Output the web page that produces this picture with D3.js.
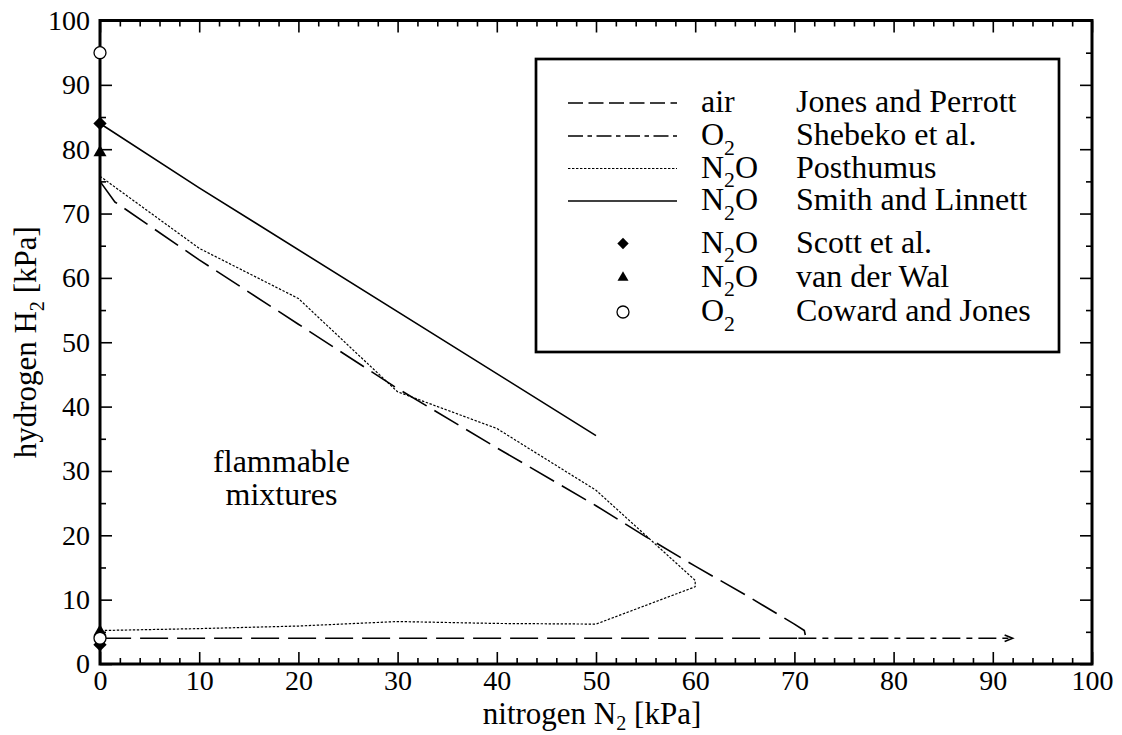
<!DOCTYPE html>
<html>
<head>
<meta charset="utf-8">
<script src="https://cdn.jsdelivr.net/npm/d3@7"></script>
<style>
  html, body { margin: 0; padding: 0; background: #fff; }
  svg { display: block; }
</style>
</head>
<body>
<svg id="chart" width="1122" height="735"></svg>
<script>
// Flammability limits of H2 / oxidiser mixtures diluted with N2 (partial pressures, kPa)

// Jones and Perrott, air (long dashes): upper branch, turning point, lower branch
const jonesAir = [[0, 75], [1.5, 71.8], [10, 62.8], [20, 52.8], [30, 42.8], [40, 33.6],
                  [50, 24.6], [55, 19.8], [60, 15.2], [65, 10.8], [70, 6.2], [71, 5.2],
                  [71.1, 4.5], [70.4, 4], [0, 4]];
// Shebeko et al., O2 (dash-dot), lower limit beyond the air curve, up to 92 kPa N2
const shebekoO2 = [[70.4, 4], [92, 4]];
// Posthumus, N2O (dotted)
const posthumusN2O = [[0, 75.8], [10, 64.6], [20, 56.8], [30, 42.3], [40, 36.6], [50, 27],
                      [60, 13], [60, 12], [50, 6.2], [40, 6.3], [30, 6.6], [20, 5.9],
                      [10, 5.5], [0, 5.2]];
// Smith and Linnett, N2O (solid)
const smithN2O = [[0, 84], [10, 74], [50, 35.5]];
// single points on the H2 axis
const scottN2O = [[0, 84], [0, 3]];
const vanDerWalN2O = [[0, 79.5], [0, 5]];
const cowardO2 = [[0, 95], [0, 4]];

// axis ticks
const xMajor = d3.range(0, 101, 10);
const xMinor = d3.range(0, 101, 2).filter(v => v % 10 !== 0);
const yMajor = d3.range(0, 101, 10);
const yMinor = d3.range(5, 100, 10);

// legend entries
const legendOxidiser = ["air", "O_2", "N_2O", "N_2O", "N_2O", "N_2O", "O_2"];
const legendSource = ["Jones and Perrott", "Shebeko et al.", "Posthumus", "Smith and Linnett",
                      "Scott et al.", "van der Wal", "Coward and Jones"];
const legendKind = ["dash", "dashdot", "dot", "solid", "diamond", "triangle", "circle"];

const W = 1122, H = 735;
const FONT = '"Liberation Serif", "Times New Roman", Times, serif';

const x = d3.scaleLinear().domain([0, 100]).range([100, 1092]);
const y = d3.scaleLinear().domain([0, 100]).range([664, 20.5]);

const svg = d3.select("#chart");
svg.append("rect").attr("width", W).attr("height", H).attr("fill", "#fff");

const lineStyles = {
  dash:    { dash: "28,9",       width: 1.6 },
  dashdot: { dash: "18,6,6,6",   width: 1.6 },
  dot:     { dash: "2.4,1.6",    width: 1.2 },
  solid:   { dash: null,         width: 1.6 }
};
const legendDash = { dash: "15,5.5", dashdot: "15,4.5,4.5,4.5", dot: "2.4,1.6", solid: null };

// subscripts written as "_2"
function addRich(textSel, str, size, subScale = 0.68, subShift = 0.3) {
  const parts = str.split(/(_\d)/).filter(p => p.length);
  let lowered = false;
  parts.forEach(p => {
    if (p[0] === "_") {
      textSel.append("tspan").attr("font-size", size * subScale).attr("dy", size * subShift).text(p.slice(1));
      lowered = true;
    } else {
      const t = textSel.append("tspan").text(p);
      if (lowered) { t.attr("dy", -size * subShift); lowered = false; }
    }
  });
}

// ---- ticks on all four sides, pointing inward ----
const TICK_FONT = 28;
function styleAxis(g) {
  g.select(".domain").remove();
  g.selectAll(".tick line").attr("stroke", "#000").attr("stroke-width", 1.6);
  g.selectAll(".tick text").attr("font-family", FONT).attr("font-size", TICK_FONT).attr("fill", "#000");
}
const axes = svg.append("g");
axes.append("g").attr("transform", `translate(0,${y(0)})`)
  .call(d3.axisBottom(x).tickValues(xMajor).tickSizeInner(-12).tickSizeOuter(0).tickPadding(5.9).tickFormat(d3.format("d")))
  .call(styleAxis);
axes.append("g").attr("transform", `translate(0,${y(0)})`)
  .call(d3.axisBottom(x).tickValues(xMinor).tickSize(-6).tickFormat(""))
  .call(styleAxis);
axes.append("g").attr("transform", `translate(0,${y(100)})`)
  .call(d3.axisTop(x).tickValues(xMajor).tickSize(-12).tickFormat(""))
  .call(styleAxis);
axes.append("g").attr("transform", `translate(0,${y(100)})`)
  .call(d3.axisTop(x).tickValues(xMinor).tickSize(-6).tickFormat(""))
  .call(styleAxis);
axes.append("g").attr("transform", `translate(${x(0)},0)`)
  .call(d3.axisLeft(y).tickValues(yMajor).tickSizeInner(-12).tickSizeOuter(0).tickPadding(10).tickFormat(d3.format("d")))
  .call(styleAxis);
axes.append("g").attr("transform", `translate(${x(0)},0)`)
  .call(d3.axisLeft(y).tickValues(yMinor).tickSize(-6).tickFormat(""))
  .call(styleAxis);
axes.append("g").attr("transform", `translate(${x(100)},0)`)
  .call(d3.axisRight(y).tickValues(yMajor).tickSize(-12).tickFormat(""))
  .call(styleAxis);
axes.append("g").attr("transform", `translate(${x(100)},0)`)
  .call(d3.axisRight(y).tickValues(yMinor).tickSize(-6).tickFormat(""))
  .call(styleAxis);

// ---- curves ----
const line = d3.line().x(d => x(d[0])).y(d => y(d[1]));
const curves = [
  { data: jonesAir, kind: "dash" },
  { data: shebekoO2, kind: "dashdot" },
  { data: posthumusN2O, kind: "dot" },
  { data: smithN2O, kind: "solid" }
];
const plot = svg.append("g");
curves.forEach(c => {
  const st = lineStyles[c.kind];
  plot.append("path")
    .attr("d", line(c.data))
    .attr("fill", "none")
    .attr("stroke", "#000")
    .attr("stroke-width", st.width)
    .attr("stroke-linejoin", "round")
    .attr("stroke-dasharray", st.dash);
});
// open arrow head at the end of the O2 lower limit
{
  const end = shebekoO2[shebekoO2.length - 1];
  const tx = x(end[0]), ty = y(end[1]);
  plot.append("path")
    .attr("d", `M${tx - 8},${ty - 3.3}L${tx},${ty}L${tx - 8},${ty + 3.3}`)
    .attr("fill", "none").attr("stroke", "#000").attr("stroke-width", 1.6);
}

// ---- frame ----
svg.append("rect")
  .attr("x", x(0)).attr("y", y(100))
  .attr("width", x(100) - x(0)).attr("height", y(0) - y(100))
  .attr("fill", "none").attr("stroke", "#000").attr("stroke-width", 3);

// ---- point markers ----
function drawMarker(g, kind, cx, cy, big) {
  if (kind === "diamond") {
    const s = big ? 9.4 : 8;
    g.append("rect").attr("x", -s / 2).attr("y", -s / 2).attr("width", s).attr("height", s)
      .attr("transform", `translate(${cx},${cy}) rotate(45)`).attr("fill", "#000");
  } else if (kind === "triangle") {
    const side = big ? 13 : 11;
    g.append("path").attr("d", d3.symbol(d3.symbolTriangle, Math.sqrt(3) / 4 * side * side)())
      .attr("transform", `translate(${cx},${cy})`).attr("fill", "#000");
  } else if (kind === "circle") {
    g.append("circle").attr("cx", cx).attr("cy", cy).attr("r", 6)
      .attr("fill", "#fff").attr("stroke", "#000").attr("stroke-width", 1.3);
  }
}
const markers = svg.append("g");
scottN2O.forEach(d => drawMarker(markers, "diamond", x(d[0]), y(d[1]), true));
vanDerWalN2O.forEach(d => drawMarker(markers, "triangle", x(d[0]), y(d[1]), true));
cowardO2.forEach(d => drawMarker(markers, "circle", x(d[0]), y(d[1]), true));

// ---- annotation ----
const note = svg.append("g").attr("font-family", FONT).attr("font-size", 32).attr("text-anchor", "middle");
note.append("text").attr("x", x(18.3)).attr("y", y(29.8)).text("flammable");
note.append("text").attr("x", x(18.3)).attr("y", y(24.7)).text("mixtures");

// ---- axis titles ----
const xt = svg.append("text").attr("x", (x(0) + x(100)) / 2 - 4).attr("y", 723.5)
  .attr("font-family", FONT).attr("font-size", 31).attr("text-anchor", "middle");
addRich(xt, "nitrogen N_2 [kPa]", 31, 0.65, 0.22);
const yt = svg.append("text")
  .attr("transform", `translate(36,${(y(0) + y(100)) / 2}) rotate(-90)`)
  .attr("font-family", FONT).attr("font-size", 31).attr("text-anchor", "middle");
addRich(yt, "hydrogen H_2 [kPa]", 31, 0.65, 0.25);

// ---- legend ----
const legend = svg.append("g");
legend.append("rect").attr("x", 536).attr("y", 59).attr("width", 523).attr("height", 293)
  .attr("fill", "#fff").attr("stroke", "#000").attr("stroke-width", 2.7);
const rowY = [103, 136, 168.5, 201, 243.5, 277.5, 312];
legendKind.forEach((k, i) => {
  const ry = rowY[i];
  if (lineStyles[k]) {
    legend.append("line").attr("x1", 568).attr("x2", 677).attr("y1", ry).attr("y2", ry)
      .attr("stroke", "#000").attr("stroke-width", lineStyles[k].width)
      .attr("stroke-dasharray", legendDash[k]);
  } else {
    drawMarker(legend, k, 623, ry, false);
  }
  const t1 = legend.append("text").attr("x", 701).attr("y", ry + 9)
    .attr("font-family", FONT).attr("font-size", 32);
  addRich(t1, legendOxidiser[i], 32);
  legend.append("text").attr("x", 796).attr("y", ry + 9)
    .attr("font-family", FONT).attr("font-size", 32).text(legendSource[i]);
});
</script>
</body>
</html>
